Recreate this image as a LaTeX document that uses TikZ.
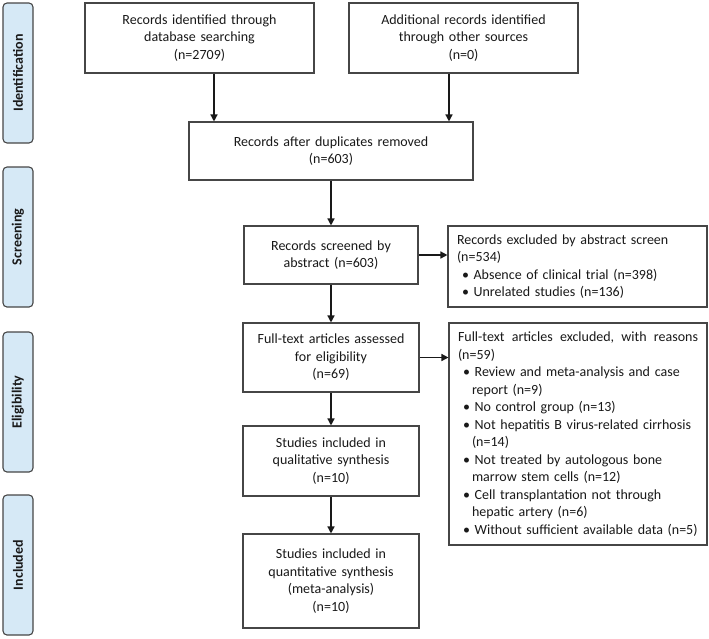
\documentclass[tikz,border=0pt]{standalone}
\usepackage{fontspec}
\setmainfont{Carlito}
\usetikzlibrary{arrows.meta}
\definecolor{lblfill}{RGB}{214,233,246}
\definecolor{edgegray}{RGB}{70,70,70}
\newcommand\bitem{\hspace*{5pt}\textbullet\ }
\newcommand\bcont{\hspace*{14pt}}
\begin{document}
\begin{tikzpicture}[x=1pt,y=-1pt,
  every node/.style={font=\fontsize{14}{17.5}\selectfont, text=black!90},
  flowbox/.style={draw=edgegray, line width=1.1pt, fill=white, align=center, inner sep=0pt},
  exclbox/.style={draw=edgegray, line width=1.1pt, fill=white, align=left, inner xsep=9pt, inner ysep=0pt},
  phase/.style={draw=edgegray, line width=1.1pt, fill=lblfill, rounded corners=4pt, rotate=90,
    minimum width=140pt, minimum height=30pt, inner sep=0pt, font=\fontsize{14}{17}\selectfont\bfseries},
  arr/.style={line width=1.4pt, draw=black!90, -{Triangle[length=7pt,width=7pt]}}
]
\useasboundingbox (0,0) rectangle (709,638);

% phase labels
\node[phase] (lid) at (18,73) {Identification};
\node[phase] (lsc) at (18,237) {Screening};
\node[phase] (lel) at (18,402) {Eligibility};
\node[phase] (lin) at (18,565) {Included};

% flow boxes
\node[flowbox, text width=229pt, minimum height=70pt] (db) at (199.5,38)
  {Records identified through\\database searching\\(n=2709)};
\node[flowbox, text width=229pt, minimum height=70pt] (other) at (463.5,38)
  {Additional records identified\\through other sources\\(n=0)};
\node[flowbox, text width=284pt, minimum height=58pt] (dup) at (331,151)
  {Records after duplicates removed\\(n=603)};
\node[flowbox, text width=174pt, minimum height=58pt] (scr) at (331,255)
  {Records screened by\\abstract (n=603)};
\node[flowbox, text width=176pt, minimum height=69pt] (full) at (331,357.5)
  {Full-text articles assessed\\for eligibility\\(n=69)};
\node[flowbox, text width=176pt, minimum height=70pt] (qual) at (331,461)
  {Studies included in\\qualitative synthesis\\(n=10)};
\node[flowbox, text width=176pt, minimum height=94pt] (quant) at (331,581)
  {Studies included in\\quantitative synthesis\\(meta-analysis)\\(n=10)};

% exclusion boxes
\node[exclbox, text width=241pt, minimum height=81pt] (ex1) at (577.5,266.5)
  {Records excluded by abstract screen\\
   (n=534)\\
   \bitem Absence of clinical trial (n=398)\\
   \bitem Unrelated studies (n=136)};
\node[exclbox, text width=240pt, minimum height=222pt] (ex2) at (578,434)
  {\hbox to 240pt{Full-text\hfill articles\hfill excluded,\hfill with\hfill reasons}\\
   (n=59)\\
   \bitem Review and meta-analysis and case\\
   \bcont report (n=9)\\
   \bitem No control group (n=13)\\
   \bitem Not hepatitis B virus-related cirrhosis\\
   \bcont (n=14)\\
   \bitem Not treated by autologous bone\\
   \bcont marrow stem cells (n=12)\\
   \bitem Cell transplantation not through\\
   \bcont hepatic artery (n=6)\\
   \bitem Without sufficient available data (n=5)};

% connectors
\draw[arr] ([xshift=14.5pt]db.south) -- ([xshift=14.5pt]db.south |- dup.north);
\draw[arr] ([xshift=-14.5pt]other.south) -- ([xshift=-14.5pt]other.south |- dup.north);
\draw[arr] (dup) -- (scr);
\draw[arr] (scr) -- (full);
\draw[arr] (full) -- (qual);
\draw[arr] (qual) -- (quant);
\draw[arr] (scr.east) -- (scr.east -| ex1.west);
\draw[arr] (full.east) -- (full.east -| ex2.west);
\end{tikzpicture}
\end{document}
